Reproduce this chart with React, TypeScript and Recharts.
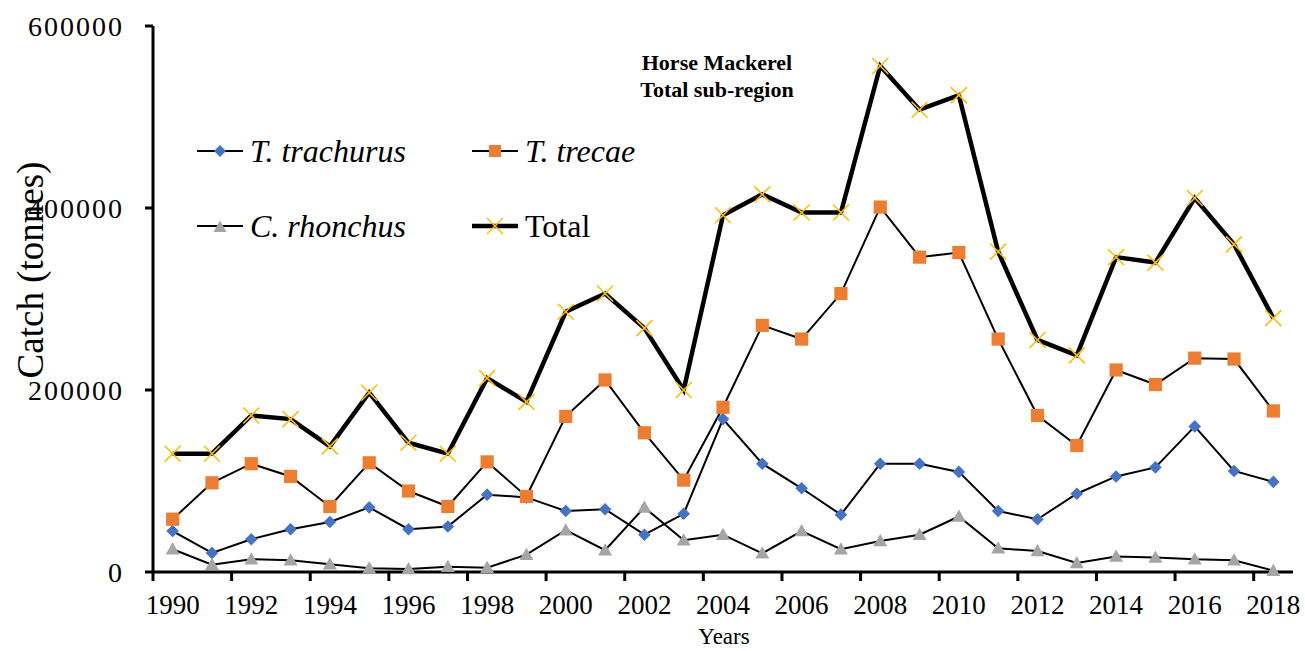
import { LineChart, Line, XAxis, YAxis, Legend } from "recharts";

const YEARS = [
  1990, 1991, 1992, 1993, 1994, 1995, 1996, 1997, 1998, 1999, 2000, 2001, 2002, 2003, 2004,
  2005, 2006, 2007, 2008, 2009, 2010, 2011, 2012, 2013, 2014, 2015, 2016, 2017, 2018,
];
const T_TRACHURUS = [
  45000, 21000, 36000, 47000, 55000, 71000, 47000, 50000, 85000, 82000, 67000, 69000, 41000, 64000,
  168000, 119000, 92000, 63000, 119000, 119000, 110000, 67000, 58000, 86000, 105000, 115000, 160000,
  111000, 99000,
];
const T_TRECAE = [
  58000, 98000, 119000, 105000, 72000, 120000, 89000, 72000, 121000, 83000, 171000, 211000, 153000,
  101000, 181000, 271000, 256000, 306000, 401000, 346000, 351000, 256000, 172000, 139000, 222000,
  206000, 235000, 234000, 177000,
];
const C_RHONCHUS = [
  25000, 8000, 14000, 13000, 8500, 4000, 3300, 5800, 4800, 19000, 46000, 24000, 71000, 35000, 41000,
  20500, 45000, 25000, 34000, 41000, 61000, 26000, 23000, 10000, 17000, 16000, 14000, 13000, 1500,
];
const TOTAL = [
  130000, 130000, 172000, 168000, 138000, 197000, 142000, 130000, 213000, 187000, 286000, 306000,
  268000, 200000, 392000, 415000, 395000, 395000, 556000, 508000, 524000, 352000, 255000, 238000,
  346000, 340000, 411000, 360000, 279000,
];
const X_TICKS = [1990, 1992, 1994, 1996, 1998, 2000, 2002, 2004, 2006, 2008, 2010, 2012, 2014, 2016, 2018];
const Y_TICKS = [0, 200000, 400000, 600000];

const data = YEARS.map((year, i) => ({
  year,
  trachurus: T_TRACHURUS[i],
  trecae: T_TRECAE[i],
  rhonchus: C_RHONCHUS[i],
  total: TOTAL[i],
}));

const FONT = '"Liberation Serif", "Times New Roman", serif';
const BLUE = "#4472C4";
const ORANGE = "#ED7D31";
const GREY = "#A5A5A5";
const GOLD = "#FFC000";

// plot box
const W = 1305;
const H = 651;
const PLOT_LEFT = 153;
const PLOT_RIGHT = 1293;
const PLOT_TOP = 26;
const PLOT_BOTTOM = 572;
const CAT_W = (PLOT_RIGHT - PLOT_LEFT) / YEARS.length;
const X_TICK_SIZE = 9;
const X_TICK_MARGIN = 14;

// marker shapes
const diamond = (cx: number, cy: number, r = 6.3) =>
  `M${cx},${cy - r}L${cx + r},${cy}L${cx},${cy + r}L${cx - r},${cy}Z`;
const triangle = (cx: number, cy: number, r = 7) =>
  `M${cx},${cy - r}L${cx + r},${cy + r * 0.75}L${cx - r},${cy + r * 0.75}Z`;

function DiamondDot(p: any) {
  if (p.cx == null) return <g key={p.index} />;
  return <path key={p.index} d={diamond(p.cx, p.cy)} fill={BLUE} />;
}
function SquareDot(p: any) {
  if (p.cx == null) return <g key={p.index} />;
  return <rect key={p.index} x={p.cx - 6.6} y={p.cy - 6.6} width={13.2} height={13.2} fill={ORANGE} />;
}
function TriangleDot(p: any) {
  if (p.cx == null) return <g key={p.index} />;
  return <path key={p.index} d={triangle(p.cx, p.cy)} fill={GREY} />;
}
function CrossDot(p: any) {
  if (p.cx == null) return <g key={p.index} />;
  const r = 8;
  return (
    <g key={p.index} stroke={GOLD} strokeWidth={1.6}>
      <line x1={p.cx - r} y1={p.cy - r} x2={p.cx + r} y2={p.cy + r} />
      <line x1={p.cx - r} y1={p.cy + r} x2={p.cx + r} y2={p.cy - r} />
    </g>
  );
}

// x ticks sit between categories, labels in the middle of the category
function YearTick(props: any) {
  const { x, y, payload } = props;
  const axisY = y - X_TICK_SIZE - X_TICK_MARGIN;
  const lx = x - CAT_W / 2;
  return (
    <g>
      <line x1={lx} x2={lx} y1={axisY} y2={axisY + X_TICK_SIZE} stroke="#000" strokeWidth={3} />
      <text x={x} y={y} dy="0.71em" textAnchor="middle" fontFamily={FONT} fontSize={27} fill="#000">
        {payload.value}
      </text>
    </g>
  );
}

const LEGEND_ITEMS = [
  { name: "T. trachurus", italic: true, kind: "diamond" },
  { name: "T. trecae", italic: true, kind: "square" },
  { name: "C. rhonchus", italic: true, kind: "triangle" },
  { name: "Total", italic: false, kind: "cross" },
];

function LegendIcon({ kind }: { kind: string }) {
  const cx = 23;
  const cy = 10;
  return (
    <svg width={46} height={20} style={{ display: "block", flexShrink: 0 }}>
      <line x1={0} x2={46} y1={cy} y2={cy} stroke="#000" strokeWidth={kind === "cross" ? 4.5 : 2} />
      {kind === "diamond" && <path d={diamond(cx, cy, 6)} fill={BLUE} />}
      {kind === "square" && <rect x={cx - 6} y={cy - 6} width={12} height={12} fill={ORANGE} />}
      {kind === "triangle" && <path d={triangle(cx, cy + 1, 6.5)} fill={GREY} />}
      {kind === "cross" && (
        <g stroke={GOLD} strokeWidth={1.6}>
          <line x1={cx - 8} y1={cy - 8} x2={cx + 8} y2={cy + 8} />
          <line x1={cx - 8} y1={cy + 8} x2={cx + 8} y2={cy - 8} />
        </g>
      )}
    </svg>
  );
}

function renderLegend() {
  return (
    <div style={{ display: "grid", gridTemplateColumns: "275px 220px", fontFamily: FONT }}>
      {LEGEND_ITEMS.map((it) => (
        <div key={it.name} style={{ display: "flex", alignItems: "center", height: 75 }}>
          <LegendIcon kind={it.kind} />
          <span
            style={{
              marginLeft: 7,
              fontSize: 32,
              fontStyle: it.italic ? "italic" : "normal",
              color: "#000",
              whiteSpace: "nowrap",
              lineHeight: "32px",
            }}
          >
            {it.name}
          </span>
        </div>
      ))}
    </div>
  );
}

export default function App() {
  return (
    <div style={{ position: "absolute", left: 0, top: 0, width: W, height: H, background: "#fff" }}>
      <LineChart
        width={W}
        height={H}
        data={data}
        margin={{ top: PLOT_TOP, right: W - PLOT_RIGHT, bottom: 0, left: 0 }}
      >
        <XAxis
          dataKey="year"
          type="number"
          domain={[YEARS[0] - 0.5, YEARS[YEARS.length - 1] + 0.5]}
          ticks={X_TICKS}
          interval={0}
          height={H - PLOT_BOTTOM}
          axisLine={{ stroke: "#000", strokeWidth: 3 }}
          tickLine={false}
          tickSize={X_TICK_SIZE}
          tickMargin={X_TICK_MARGIN}
          tick={<YearTick />}
        />
        <YAxis
          domain={[0, 600000]}
          ticks={Y_TICKS}
          interval={0}
          width={PLOT_LEFT}
          axisLine={{ stroke: "#000", strokeWidth: 3 }}
          tickLine={{ stroke: "#000", strokeWidth: 3 }}
          tickSize={8}
          tickMargin={21}
          tick={{ fill: "#000", fontSize: 28, fontFamily: FONT, letterSpacing: 2 }}
        />
        <Legend
          layout="horizontal"
          verticalAlign="middle"
          align="center"
          content={renderLegend}
          wrapperStyle={{ left: 197, top: 113, width: 500, height: 150 }}
        />
        <Line dataKey="trachurus" name="T. trachurus" stroke="#000" strokeWidth={2} dot={DiamondDot} activeDot={false} isAnimationActive={false} />
        <Line dataKey="trecae" name="T. trecae" stroke="#000" strokeWidth={2} dot={SquareDot} activeDot={false} isAnimationActive={false} />
        <Line dataKey="rhonchus" name="C. rhonchus" stroke="#000" strokeWidth={2} dot={TriangleDot} activeDot={false} isAnimationActive={false} />
        <Line dataKey="total" name="Total" stroke="#000" strokeWidth={4.5} dot={CrossDot} activeDot={false} isAnimationActive={false} />
      </LineChart>

      {/* titles */}
      <svg width={W} height={H} style={{ position: "absolute", left: 0, top: 0, pointerEvents: "none" }}>
        <text x={717} y={70} textAnchor="middle" fontFamily={FONT} fontWeight="bold" fontSize={22}>
          Horse Mackerel
        </text>
        <text x={717} y={97} textAnchor="middle" fontFamily={FONT} fontWeight="bold" fontSize={22}>
          Total sub-region
        </text>
        <text x={43} y={270} transform="rotate(-90 43 270)" textAnchor="middle" fontFamily={FONT} fontSize={37}>
          Catch (tonnes)
        </text>
        <text x={724} y={644} textAnchor="middle" fontFamily={FONT} fontSize={23}>
          Years
        </text>
      </svg>
    </div>
  );
}
